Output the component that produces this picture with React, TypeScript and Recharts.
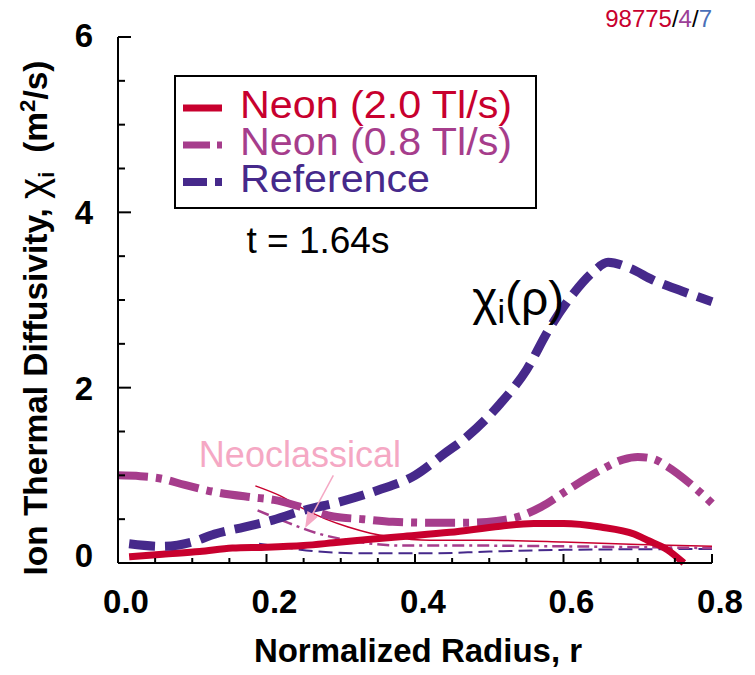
import React from 'react';
import { LineChart, Line, XAxis, YAxis, Legend, ReferenceDot, ReferenceLine } from 'recharts';

const RED = '#C8002E';
const MAGENTA = '#A63D8C';
const INDIGO = '#46298B';
const PINK = '#F5A8C4';
const FONT = '"Liberation Sans", Arial, sans-serif';

// axis ticks
const X_TICKS = [0, 0.05, 0.1, 0.15, 0.2, 0.25, 0.3, 0.35, 0.4, 0.45, 0.5, 0.55, 0.6, 0.65, 0.7, 0.75, 0.8];
const X_LABELS = ['0.0', '0.2', '0.4', '0.6', '0.8'];
const Y_TICKS = [0, 0.5, 1, 1.5, 2, 2.5, 3, 3.5, 4, 4.5, 5, 5.5, 6];
const Y_LABELS = ['0', '2', '4', '6'];
const Y_LABEL_DY = [4, 12, 12, 10];

const SERIES_NAMES = ['Neon (2.0 Tl/s)', 'Neon (0.8 Tl/s)', 'Reference'];

// chi_i(rho), thick curves
const neon20R = [0.015, 0.06, 0.11, 0.154, 0.2, 0.25, 0.29, 0.34, 0.38, 0.447, 0.515, 0.56, 0.6, 0.65, 0.695, 0.713, 0.74, 0.762];
const neon20Chi = [0.07, 0.1, 0.13, 0.17, 0.18, 0.2, 0.23, 0.27, 0.3, 0.35, 0.42, 0.45, 0.45, 0.41, 0.33, 0.26, 0.15, 0.0];

const neon08R = [0, 0.03, 0.06, 0.09, 0.13, 0.18, 0.21, 0.25, 0.29, 0.33, 0.37, 0.42, 0.47, 0.51, 0.54, 0.57, 0.605, 0.65, 0.68, 0.7, 0.72, 0.74, 0.77, 0.8];
const neon08Chi = [1.0, 0.99, 0.96, 0.89, 0.81, 0.75, 0.72, 0.63, 0.53, 0.5, 0.47, 0.46, 0.46, 0.48, 0.53, 0.64, 0.83, 1.06, 1.18, 1.21, 1.19, 1.1, 0.91, 0.68];

const refR = [0.015, 0.06, 0.1, 0.13, 0.17, 0.2, 0.25, 0.3, 0.35, 0.4, 0.44, 0.47, 0.515, 0.55, 0.58, 0.614, 0.64, 0.66, 0.69, 0.72, 0.76, 0.8];
const refChi = [0.22, 0.19, 0.24, 0.33, 0.41, 0.47, 0.6, 0.7, 0.83, 1.0, 1.25, 1.44, 1.82, 2.2, 2.66, 3.08, 3.32, 3.43, 3.36, 3.23, 3.1, 2.98];

// neoclassical (thin curves)
const neoNeon20R = [0.185, 0.22, 0.245, 0.28, 0.31, 0.34, 0.366, 0.42, 0.5, 0.6, 0.7, 0.8];
const neoNeon20Chi = [0.88, 0.76, 0.64, 0.5, 0.41, 0.34, 0.3, 0.26, 0.26, 0.24, 0.21, 0.19];

const neoNeon08R = [0.188, 0.22, 0.268, 0.31, 0.38, 0.45, 0.6, 0.8];
const neoNeon08Chi = [0.6, 0.49, 0.34, 0.26, 0.2, 0.2, 0.19, 0.17];

const neoRefR = [0.19, 0.23, 0.27, 0.33, 0.42, 0.5, 0.6, 0.8];
const neoRefChi = [0.22, 0.17, 0.13, 0.11, 0.11, 0.13, 0.15, 0.16];

const zip = (rs: number[], cs: number[]) => rs.map((r, i) => ({ r, chi: cs[i] }));

const neon20 = zip(neon20R, neon20Chi);
const neon08 = zip(neon08R, neon08Chi);
const reference = zip(refR, refChi);
const neoNeon20 = zip(neoNeon20R, neoNeon20Chi);
const neoNeon08 = zip(neoNeon08R, neoNeon08Chi);
const neoRef = zip(neoRefR, neoRefChi);

const isXMajor = (v: number) => Math.abs(v * 5 - Math.round(v * 5)) < 1e-6;
const isYMajor = (v: number) => Math.abs(v / 2 - Math.round(v / 2)) < 1e-6;

const AxisTick = (props: any) => {
  const { x, y, payload, side } = props;
  const v = payload.value;
  if (side === 'bottom' || side === 'top') {
    const major = isXMajor(v);
    const len = major ? 9 : 5;
    const dir = side === 'bottom' ? -1 : 1;
    return (
      <g>
        <line x1={x} x2={x} y1={y} y2={y + dir * len} stroke="#000" strokeWidth={2} />
        {side === 'bottom' && major && (
          <text x={x + 8} y={y + 50} textAnchor="middle" fontSize={33} fontWeight="bold" fontFamily={FONT} fill="#000">
            {X_LABELS[Math.round(v * 5)]}
          </text>
        )}
      </g>
    );
  }
  const major = isYMajor(v);
  const len = major ? 13 : 7;
  const dir = side === 'left' ? 1 : -1;
  const idx = Math.round(v / 2);
  return (
    <g>
      <line x1={x} x2={x + dir * len} y1={y} y2={y} stroke="#000" strokeWidth={2} />
      {side === 'left' && major && (
        <text x={x - 25} y={y + Y_LABEL_DY[idx]} textAnchor="end" fontSize={33} fontWeight="bold" fontFamily={FONT} fill="#000">
          {Y_LABELS[idx]}
        </text>
      )}
    </g>
  );
};

const legendStyles = [
  { color: RED, width: 7, dash: undefined, len: 272 },
  { color: MAGENTA, width: 7, dash: '27 7 5 20', len: 272 },
  { color: INDIGO, width: 8, dash: '24 8', len: 190 },
];

const LegendBox = () => (
  <svg width={363} height={134} style={{ display: 'block' }}>
    <rect x={1} y={1} width={361} height={132} fill="#fff" stroke="#000" strokeWidth={2} />
    {SERIES_NAMES.map((name, i) => (
      <g key={name}>
        <line x1={9} x2={48} y1={33 + i * 37} y2={33 + i * 37} stroke={legendStyles[i].color}
          strokeWidth={legendStyles[i].width} strokeDasharray={legendStyles[i].dash} />
        <text x={66} y={43 + i * 37} fill={legendStyles[i].color} fontSize={39} fontFamily={FONT}
          textLength={legendStyles[i].len} lengthAdjust="spacingAndGlyphs">{name}</text>
      </g>
    ))}
  </svg>
);

const XTitle = (props: any) => {
  const vb = props.viewBox || { x: 118, y: 563, width: 594 };
  return (
    <text x={vb.x + vb.width / 2 + 3} y={vb.y + 99} textAnchor="middle" fontSize={33} fontWeight="bold" fontFamily={FONT} fill="#000">
      Normalized Radius, r
    </text>
  );
};

const YTitle = (props: any) => {
  const vb = props.viewBox || { x: 58, y: 37, height: 526 };
  const cx = vb.x - 11;
  const cy = vb.y + vb.height / 2 + 18;
  return (
    <text x={cx} y={cy} transform={`rotate(-90 ${cx} ${cy})`} textAnchor="middle" fontSize={33} fontWeight="bold"
      fontFamily={FONT} fill="#000" textLength={515} lengthAdjust="spacingAndGlyphs">
      Ion Thermal Diffusivity, <tspan fontWeight="normal" fontSize={40}>χ</tspan>
      <tspan fontSize={22} dy={7}>i</tspan>
      <tspan dy={-7}>{'\u00a0\u00a0(m'}</tspan>
      <tspan fontSize={22} dy={-12}>2</tspan>
      <tspan dy={12}>/s)</tspan>
    </text>
  );
};

const Arrow = (props: any) => {
  const { x1, y1, x2, y2 } = props;
  const ang = Math.atan2(y2 - y1, x2 - x1);
  const L = 16;
  const W = 6;
  const bx = x2 - L * Math.cos(ang);
  const by = y2 - L * Math.sin(ang);
  const px = -Math.sin(ang) * W;
  const py = Math.cos(ang) * W;
  return (
    <g>
      <line x1={x1} y1={y1} x2={bx} y2={by} stroke={PINK} strokeWidth={1.5} />
      <polygon points={`${x2},${y2} ${bx + px},${by + py} ${bx - px},${by - py}`} fill={PINK} />
    </g>
  );
};

export default function App() {
  return (
    <div style={{ position: 'absolute', left: 0, top: 0, width: 755, height: 675, background: '#fff' }}>
      <LineChart width={755} height={675} margin={{ top: 37, right: 43, bottom: 52, left: 58 }}>
        <XAxis
          type="number"
          dataKey="r"
          domain={[0, 0.8]}
          ticks={X_TICKS}
          interval={0}
          height={60}
          tickSize={0}
          tickMargin={0}
          tickLine={false}
          axisLine={{ stroke: '#000', strokeWidth: 2 }}
          tick={(p: any) => <AxisTick {...p} side="bottom" />}
          label={<XTitle />}
        />
        <XAxis
          xAxisId="top"
          orientation="top"
          type="number"
          domain={[0, 0.8]}
          ticks={X_TICKS}
          interval={0}
          height={0}
          tickSize={0}
          tickMargin={0}
          tickLine={false}
          axisLine={{ stroke: '#000', strokeWidth: 2 }}
          tick={(p: any) => <AxisTick {...p} side="top" />}
        />
        <YAxis
          type="number"
          domain={[0, 6]}
          ticks={Y_TICKS}
          interval={0}
          width={60}
          tickSize={0}
          tickMargin={0}
          tickLine={false}
          axisLine={{ stroke: '#000', strokeWidth: 2 }}
          tick={(p: any) => <AxisTick {...p} side="left" />}
          label={<YTitle />}
        />
        <YAxis
          yAxisId="right"
          orientation="right"
          type="number"
          domain={[0, 6]}
          ticks={Y_TICKS}
          interval={0}
          width={0}
          tickSize={0}
          tickMargin={0}
          tickLine={false}
          axisLine={{ stroke: '#000', strokeWidth: 2 }}
          tick={(p: any) => <AxisTick {...p} side="right" />}
        />

        <Line data={neoRef} dataKey="chi" type="monotone" stroke={INDIGO} strokeWidth={2} strokeDasharray="14 6" dot={false} activeDot={false} isAnimationActive={false} />
        <Line data={neoNeon08} dataKey="chi" type="monotone" stroke={MAGENTA} strokeWidth={2.5} strokeDasharray="12 5 3 5" dot={false} activeDot={false} isAnimationActive={false} />
        <Line data={neoNeon20} dataKey="chi" type="monotone" stroke={RED} strokeWidth={1.5} dot={false} activeDot={false} isAnimationActive={false} />
        <Line data={neon08} dataKey="chi" name={SERIES_NAMES[1]} type="monotone" stroke={MAGENTA} strokeWidth={8} strokeDasharray="30 8 6 8" dot={false} activeDot={false} isAnimationActive={false} />
        <Line data={neon20} dataKey="chi" name={SERIES_NAMES[0]} type="monotone" stroke={RED} strokeWidth={7} dot={false} activeDot={false} isAnimationActive={false} />
        <Line data={reference} dataKey="chi" name={SERIES_NAMES[2]} type="monotone" stroke={INDIGO} strokeWidth={9} strokeDasharray="26 10" dot={false} activeDot={false} isAnimationActive={false} />

        <ReferenceLine segment={[{ x: 0.29, y: 1.0 }, { x: 0.252, y: 0.4 }]} shape={(p: any) => <Arrow {...p} />} />
        <ReferenceDot x={0.245} y={1.09} r={0} shape={(p: any) => (
          <text x={p.cx} y={p.cy} textAnchor="middle" fontSize={36} fontFamily={FONT} fill={PINK}>Neoclassical</text>
        )} />
        <ReferenceDot x={0.173} y={3.535} r={0} shape={(p: any) => (
          <text x={p.cx} y={p.cy} fontSize={37} fontFamily={FONT} fill="#000">t = 1.64s</text>
        )} />
        <ReferenceDot x={0.477} y={2.83} r={0} shape={(p: any) => (
          <text x={p.cx} y={p.cy} fontSize={48} fontFamily={FONT} fill="#000">
            χ<tspan fontSize={34} dy={8}>i</tspan><tspan dy={-8}>(ρ)</tspan>
          </text>
        )} />
        <ReferenceDot x={0.8} y={6} r={0} shape={(p: any) => (
          <text x={p.cx} y={p.cy - 10} textAnchor="end" fontSize={24} fontFamily={FONT}>
            <tspan fill={RED}>98775</tspan><tspan fill="#000">/</tspan><tspan fill="#9B3F97">4</tspan><tspan fill="#000">/</tspan><tspan fill="#4A6FB8">7</tspan>
          </text>
        )} />

        <Legend
          layout="horizontal"
          verticalAlign="middle"
          align="center"
          content={() => <LegendBox />}
          wrapperStyle={{ left: 174, top: 75, width: 363, height: 134, bottom: 'auto', right: 'auto' }}
        />
      </LineChart>
    </div>
  );
}
